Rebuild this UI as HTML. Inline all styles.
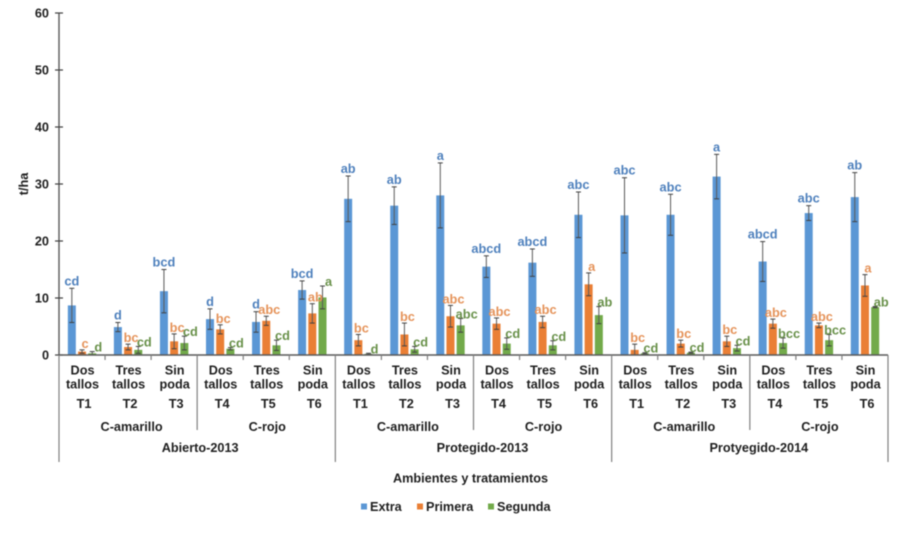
<!DOCTYPE html>
<html lang="es">
<head>
<meta charset="utf-8">
<title>Rendimiento por ambientes y tratamientos</title>
<style>
html,body{margin:0;padding:0;background:#fff;width:900px;height:533px;overflow:hidden}
svg{display:block;filter:blur(0.55px)}
text{font-family:"Liberation Sans",sans-serif;font-weight:bold;fill:#1f1f1f;font-size:12.7px}
</style>
</head>
<body>
<svg id="chart" width="900" height="533" viewBox="0 0 900 533" xmlns="http://www.w3.org/2000/svg"></svg>
<script>
const yTicks = [0, 10, 20, 30, 40, 50, 60];
const plantLines = [["Dos", "tallos"], ["Tres", "tallos"], ["Sin", "poda"], ["Dos", "tallos"], ["Tres", "tallos"], ["Sin", "poda"], ["Dos", "tallos"], ["Tres", "tallos"], ["Sin", "poda"], ["Dos", "tallos"], ["Tres", "tallos"], ["Sin", "poda"], ["Dos", "tallos"], ["Tres", "tallos"], ["Sin", "poda"], ["Dos", "tallos"], ["Tres", "tallos"], ["Sin", "poda"]];
const treatments = ["T1", "T2", "T3", "T4", "T5", "T6", "T1", "T2", "T3", "T4", "T5", "T6", "T1", "T2", "T3", "T4", "T5", "T6"];
const colorGroups = ["C-amarillo", "C-rojo", "C-amarillo", "C-rojo", "C-amarillo", "C-rojo"];
const environments = ["Abierto-2013", "Protegido-2013", "Protyegido-2014"];

const extra = [8.7, 4.9, 11.2, 6.3, 5.8, 11.4, 27.4, 26.2, 28.0, 15.5, 16.2, 24.6, 24.5, 24.6, 31.3, 16.4, 24.9, 27.7];
const primera = [0.6, 1.4, 2.4, 4.5, 6.0, 7.3, 2.6, 3.6, 6.8, 5.5, 5.8, 12.4, 0.9, 2.0, 2.4, 5.5, 5.2, 12.2];
const segunda = [0.3, 0.9, 2.1, 1.1, 1.7, 10.1, 0.2, 1.0, 5.2, 2.0, 1.7, 7.0, 0.3, 0.4, 1.2, 2.1, 2.6, 8.4];

const extraErr = [3.0, 0.8, 3.8, 1.8, 1.8, 1.6, 4.0, 3.3, 5.7, 1.9, 2.4, 4.0, 6.6, 3.6, 3.9, 3.5, 1.3, 4.3];
const primeraErr = [0.3, 0.5, 1.3, 0.8, 0.8, 1.7, 1.0, 2.0, 1.9, 1.0, 1.0, 2.0, 1.0, 0.6, 0.9, 0.8, 0.4, 1.9];
const segundaErr = [0.3, 0.6, 1.2, 0.2, 0.9, 2.0, 0.1, 0.5, 1.2, 1.0, 0.8, 1.5, 0.1, 0.1, 0.5, 0.9, 1.0, 0.1];

const extraLetters = ["cd", "d", "bcd", "d", "d", "bcd", "ab", "ab", "a", "abcd", "abcd", "abc", "abc", "abc", "a", "abcd", "abc", "ab"];
const primeraLetters = ["c", "bc", "bc", "bc", "abc", "ab", "bc", "bc", "abc", "abc", "abc", "a", "bc", "bc", "bc", "abc", "abc", "a"];
const segundaLetters = ["d", "cd", "cd", "cd", "cd", "a", "d", "cd", "abc", "cd", "cd", "ab", "cd", "cd", "cd", "bcc", "bcc", "ab"];

const svg = document.getElementById('chart');
const NS = 'http://www.w3.org/2000/svg';
const X0 = 59, X1 = 888, Y0 = 355, PX_PER_UNIT = 5.7;
const catW = (X1 - X0) / plantLines.length;

function x(i) { return X0 + catW * (i + 0.5); }
function edge(i) { return X0 + catW * i; }
function y(v) { return Y0 - v * PX_PER_UNIT; }

function make(tag, attrs, parent) {
  const el = document.createElementNS(NS, tag);
  for (const k in attrs) el.setAttribute(k, attrs[k]);
  (parent || svg).appendChild(el);
  return el;
}
function line(x1, y1, x2, y2, stroke, w, parent) {
  return make('line', { x1: x1, y1: y1, x2: x2, y2: y2, stroke: stroke, 'stroke-width': w }, parent);
}
function label(str, px, py, anchor, parent) {
  const t = make('text', { x: px, y: py, 'text-anchor': anchor || 'middle' }, parent);
  t.textContent = str;
  return t;
}

/* series */
const series = [
  { key: 'extra', vals: extra, errs: extraErr, letters: extraLetters, color: '#5b97d5', text: '#4f81bd', off: -10.2, dx: 0, gap: 3 },
  { key: 'primera', vals: primera, errs: primeraErr, letters: primeraLetters, color: '#ea7f35', text: '#e5935a', off: 0, dx: 3, gap: 2 },
  { key: 'segunda', vals: segunda, errs: segundaErr, letters: segundaLetters, color: '#72aa4a', text: '#69914a', off: 10.2, dx: 6, gap: 0 }
];
const barW = 8;

series.forEach(function (s) {
  s.vals.forEach(function (v, i) {
    const cx = x(i) + s.off;
    const bar = make('rect', { x: cx - barW / 2, y: y(v), width: barW, height: Y0 - y(v), fill: s.color });
    
    
  });
});

series.forEach(function (s) {
  s.vals.forEach(function (v, i) {
    const cx = x(i) + s.off;
    const top = y(v + s.errs[i]);
    const bot = y(Math.max(0, v - s.errs[i]));
    const g = make('g', {});
    
    
    line(cx, top, cx, bot, '#595959', 1, g);
    line(cx - 2.5, top, cx + 2.5, top, '#404040', 1, g);
    line(cx - 2.5, bot, cx + 2.5, bot, '#404040', 1, g);
  });
});

series.forEach(function (s) {
  s.letters.forEach(function (str, i) {
    const t = label(str, x(i) + s.off + s.dx, y(s.vals[i] + s.errs[i]) - s.gap);
    
    
    t.setAttribute('style', 'fill:' + s.text + ';font-size:12.8px');
  });
});

/* y axis */
const yAxis = line(X0, y(yTicks[yTicks.length - 1]), X0, Y0, '#595959', 1.4);


yTicks.forEach(function (v) {
  const tick = line(X0 - 4, y(v), X0 + 4, y(v), '#404040', 1.2);
  
  
  const t = label(String(v), 49, y(v) + 4.5, 'end');
  
  
});
const yTitle = label('t/ha', 0, 0);
yTitle.setAttribute('transform', 'translate(28,184) rotate(-90)');



/* x axis */
const xAxis = line(X0, Y0, X1, Y0, '#595959', 1.4);


for (let i = 0; i <= plantLines.length; i++) {
  const bottom = i % 6 === 0 ? 462 : (i % 3 === 0 ? 430 : 360);
  const sep = line(edge(i), Y0, edge(i), bottom, '#808080', 1.2);
  
  
}
plantLines.forEach(function (pair, i) {
  const a = label(pair[0], x(i) + 0.5, 374.5);
  
  
  const b = label(pair[1], x(i) + 0.5, 388.5);
  
  
  const c = label(treatments[i], x(i) + 2, 408);
  
  
});
colorGroups.forEach(function (g, i) {
  const t = label(g, edge(i * 3 + 1.5) + (i % 2 === 0 ? 3.5 : 1), 431);
  
  
});
environments.forEach(function (g, i) {
  const t = label(g, edge(i * 6 + 3) + (i === 0 ? 3 : 9), 452);
  
  
});
const xTitle = label('Ambientes y tratamientos', 470.5, 482.5);



/* legend */
const legendNames = ["Extra", "Primera", "Segunda"];
const legendStarts = [361, 417, 488];
legendNames.forEach(function (n, i) {
  const g = make('g', {});
  
  
  make('rect', { x: legendStarts[i], y: 503.5, width: 6, height: 6, fill: series[i].color }, g);
  label(n, legendStarts[i] + 9, 511, 'start', g);
});
</script>
</body>
</html>
